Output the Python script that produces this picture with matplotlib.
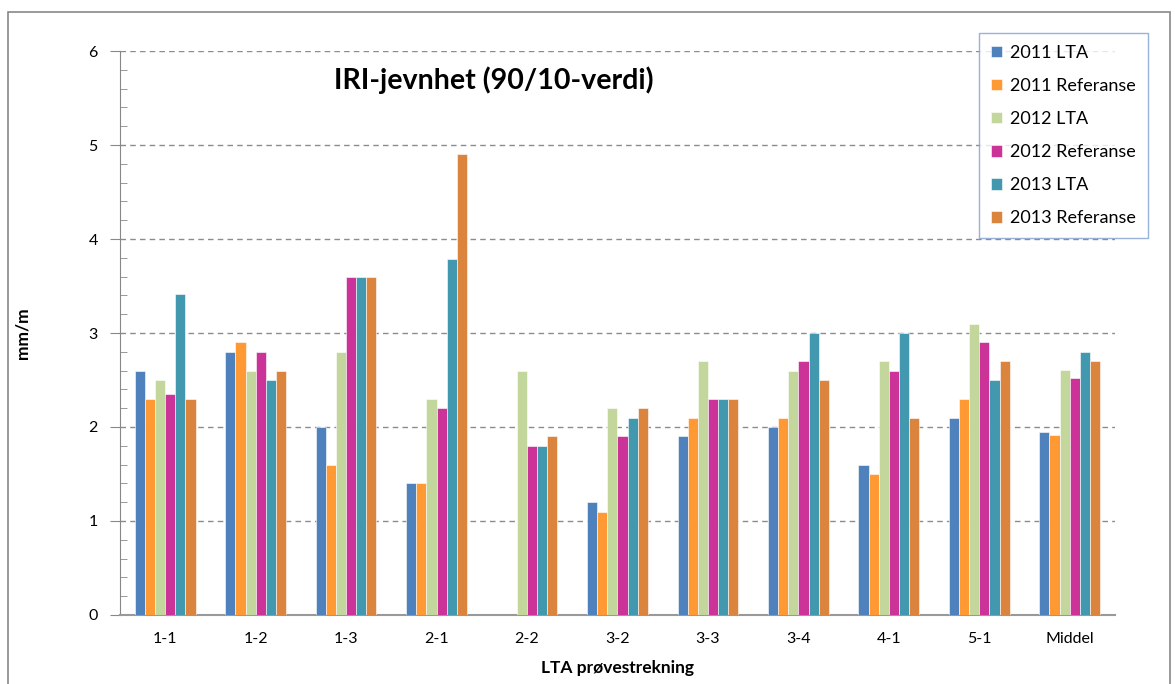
import numpy as np
import matplotlib.pyplot as plt
from matplotlib.patches import Rectangle
from matplotlib.ticker import MultipleLocator

# data
strekninger = ['1-1', '1-2', '1-3', '2-1', '2-2', '3-2', '3-3', '3-4', '4-1', '5-1', 'Middel']

lta_2011 = [2.6, 2.8, 2.0, 1.4, 0, 1.2, 1.9, 2.0, 1.6, 2.1, 1.95]
ref_2011 = [2.3, 2.9, 1.6, 1.4, 0, 1.1, 2.1, 2.1, 1.5, 2.3, 1.92]
lta_2012 = [2.5, 2.6, 2.8, 2.3, 2.6, 2.2, 2.7, 2.6, 2.7, 3.1, 2.61]
ref_2012 = [2.35, 2.8, 3.6, 2.2, 1.8, 1.9, 2.3, 2.7, 2.6, 2.9, 2.52]
lta_2013 = [3.42, 2.5, 3.6, 3.79, 1.8, 2.1, 2.3, 3.0, 3.0, 2.5, 2.8]
ref_2013 = [2.3, 2.6, 3.6, 4.9, 1.9, 2.2, 2.3, 2.5, 2.1, 2.7, 2.7]

serier = [lta_2011, ref_2011, lta_2012, ref_2012, lta_2013, ref_2013]
navn = ['2011 LTA', '2011 Referanse', '2012 LTA', '2012 Referanse', '2013 LTA', '2013 Referanse']
farger = ['#4F81BD', '#FF9933', '#C3D69B', '#CC3399', '#4198AF', '#DB843D']

plt.rcParams['font.family'] = ['Lato', 'DejaVu Sans']

fig = plt.figure(figsize=(11.75, 6.84), dpi=100)
ax = fig.add_axes([0.1021, 0.1009, 0.8468, 0.8245])

# outer chart frame
fig.patches.append(Rectangle((8 / 1175, -0.01), 1162 / 1175, 1 - 12 / 684 + 0.01,
                             transform=fig.transFigure, fill=False,
                             edgecolor='#888888', linewidth=1.2))

x = np.arange(len(strekninger))
bredde = 0.112
for i, (verdier, n, f) in enumerate(zip(serier, navn, farger)):
    ax.bar(x + (i - 2.5) * bredde, verdier, bredde, label=n, color=f,
           edgecolor='white', linewidth=0.4, zorder=3)

ax.set_xlim(-0.5, len(strekninger) - 0.5)
ax.set_ylim(0, 6)
ax.set_xticks(x)
ax.set_xticklabels(strekninger, fontsize=11.5)
ax.tick_params(axis='x', length=0, pad=12)
ax.yaxis.set_major_locator(MultipleLocator(1))
ax.yaxis.set_minor_locator(MultipleLocator(0.2))
ax.tick_params(axis='y', which='major', length=7, color='#888888', labelsize=11.5, pad=9)
ax.tick_params(axis='y', which='minor', length=5, direction='in', color='#888888')

ax.yaxis.grid(True, linestyle=(0, (4, 3)), color='#8c8c8c', linewidth=1.0, zorder=0)
for s in ['top', 'right']:
    ax.spines[s].set_visible(False)
ax.spines['left'].set_color('#888888')
ax.spines['bottom'].set_color('#999999')
ax.spines['bottom'].set_linewidth(1.5)

ax.set_ylabel('mm/m', fontsize=12.5, fontweight='bold')
ax.yaxis.set_label_coords(-0.09, 0.5)
ax.set_xlabel('LTA prøvestrekning', fontsize=12.5, fontweight='bold', labelpad=10)

ax.text(0.215, 0.948, 'IRI-jevnhet (90/10-verdi)', transform=ax.transAxes,
        fontsize=20.6, fontweight='bold', va='center', ha='left')

leg = ax.legend(loc='upper right', bbox_to_anchor=(1.033, 1.032), fontsize=13,
                frameon=True, fancybox=False, handlelength=0.6, handleheight=0.6,
                labelspacing=0.95, borderpad=0.65, borderaxespad=0,
                handletextpad=0.45)
leg.get_frame().set_edgecolor('#7F9FD0')
leg.get_frame().set_linewidth(1.0)

fig.savefig('out.png', dpi=100)
